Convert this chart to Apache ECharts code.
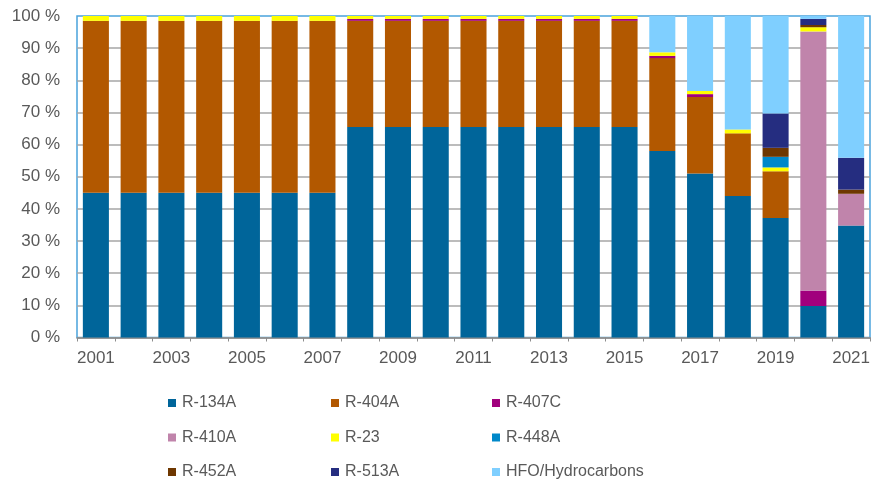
<!DOCTYPE html>
<html>
<head>
<meta charset="utf-8">
<title>Refrigerant share by year</title>
<script src="https://cdn.jsdelivr.net/npm/echarts@6/dist/echarts.min.js"></script>
<style>
  html, body { margin: 0; padding: 0; background: #ffffff; }
  #chart { width: 873px; height: 483px; }
</style>
</head>
<body>
<div id="chart"></div>
<script>
// Years on the horizontal axis
const years = ['2001','2002','2003','2004','2005','2006','2007','2008','2009','2010','2011',
               '2012','2013','2014','2015','2016','2017','2018','2019','2020','2021'];

// Share of each refrigerant per year, in percent
const r134a = [45, 45, 45, 45, 45, 45, 45, 65.5, 65.5, 65.5, 65.5, 65.5, 65.5, 65.5, 65.5, 58, 51, 44, 37.2, 9.8, 34.8];
const r404a = [53.5, 53.5, 53.5, 53.5, 53.5, 53.5, 53.5, 33, 33, 33, 33, 33, 33, 33, 33, 28.9, 23.8, 19.5, 14.5, 0, 0];
const r407c = [0, 0, 0, 0, 0, 0, 0, 0.6, 0.6, 0.6, 0.6, 0.6, 0.6, 0.6, 0.6, 0.7, 0.9, 0, 0, 4.8, 0];
const r410a = [0, 0, 0, 0, 0, 0, 0, 0, 0, 0, 0, 0, 0, 0, 0, 0, 0, 0, 0, 80.6, 9.9];
const r23   = [1.5, 1.5, 1.5, 1.5, 1.5, 1.5, 1.5, 0.9, 0.9, 0.9, 0.9, 0.9, 0.9, 0.9, 0.9, 1.1, 1.0, 1.2, 1.2, 1.3, 0];
const r448a = [0, 0, 0, 0, 0, 0, 0, 0, 0, 0, 0, 0, 0, 0, 0, 0, 0, 0, 3.3, 0, 0];
const r452a = [0, 0, 0, 0, 0, 0, 0, 0, 0, 0, 0, 0, 0, 0, 0, 0, 0, 0, 2.8, 0.7, 1.3];
const r513a = [0, 0, 0, 0, 0, 0, 0, 0, 0, 0, 0, 0, 0, 0, 0, 0, 0, 0, 10.7, 1.9, 9.9];
const hfo   = [0, 0, 0, 0, 0, 0, 0, 0, 0, 0, 0, 0, 0, 0, 0, 11.3, 23.3, 35.3, 30.3, 0.9, 44.1];

// Value axis ticks
const yTicks = { min: 0, max: 100, step: 10 };

const seriesDefs = [
  { name: 'R-134A', data: r134a, color: '#00659a' },
  { name: 'R-404A', data: r404a, color: '#b25800' },
  { name: 'R-407C', data: r407c, color: '#a1007d' },
  { name: 'R-410A', data: r410a, color: '#c084ab' },
  { name: 'R-23',   data: r23,   color: '#ffff00' },
  { name: 'R-448A', data: r448a, color: '#0088c9' },
  { name: 'R-452A', data: r452a, color: '#6e3700' },
  { name: 'R-513A', data: r513a, color: '#252d80' },
  { name: 'HFO/Hydrocarbons', data: hfo, color: '#7fcfff' }
];

const FONT = 'Liberation Sans, Arial, sans-serif';
const TEXT = '#595959';

function legendColumn(names, left) {
  return {
    orient: 'vertical',
    left: left,
    top: 395,
    padding: 0,
    itemWidth: 8,
    itemHeight: 8,
    itemGap: 18.5,
    icon: 'rect',
    data: names,
    selectedMode: false,
    textStyle: { fontFamily: FONT, fontSize: 16, color: TEXT, lineHeight: 16, padding: [0, 0, 0, 1] }
  };
}

const chart = echarts.init(document.getElementById('chart'));
chart.setOption({
  animation: false,
  backgroundColor: '#ffffff',
  grid: {
    left: 77, right: 2, top: 16, bottom: 145.5,
    show: true, borderColor: '#4aa3dc', borderWidth: 1.5
  },
  legend: [
    legendColumn(['R-134A', 'R-410A', 'R-452A'], 168),
    legendColumn(['R-404A', 'R-23', 'R-513A'], 331),
    legendColumn(['R-407C', 'R-448A', 'HFO/Hydrocarbons'], 492)
  ],
  xAxis: {
    type: 'category',
    data: years,
    boundaryGap: true,
    axisLine: { show: true, lineStyle: { color: '#8c8c8c', width: 1.5 } },
    axisTick: { show: true, interval: 0, alignWithLabel: false, length: 4, lineStyle: { color: '#8c8c8c' } },
    axisLabel: { interval: 1, margin: 12, fontFamily: FONT, fontSize: 17, color: TEXT }
  },
  yAxis: {
    type: 'value',
    min: yTicks.min,
    max: yTicks.max,
    interval: yTicks.step,
    axisLine: { show: false },
    axisTick: { show: false },
    axisLabel: { formatter: '{value} %', margin: 17, fontFamily: FONT, fontSize: 17, color: TEXT },
    splitLine: { show: true, showMaxLine: false, lineStyle: { color: '#a6a6a6', width: 1.5 } }
  },
  series: seriesDefs.map(s => ({
    name: s.name,
    type: 'bar',
    stack: 'share',
    data: s.data,
    barCategoryGap: '31%',
    itemStyle: { color: s.color },
    emphasis: { disabled: true }
  }))
});
</script>
</body>
</html>
